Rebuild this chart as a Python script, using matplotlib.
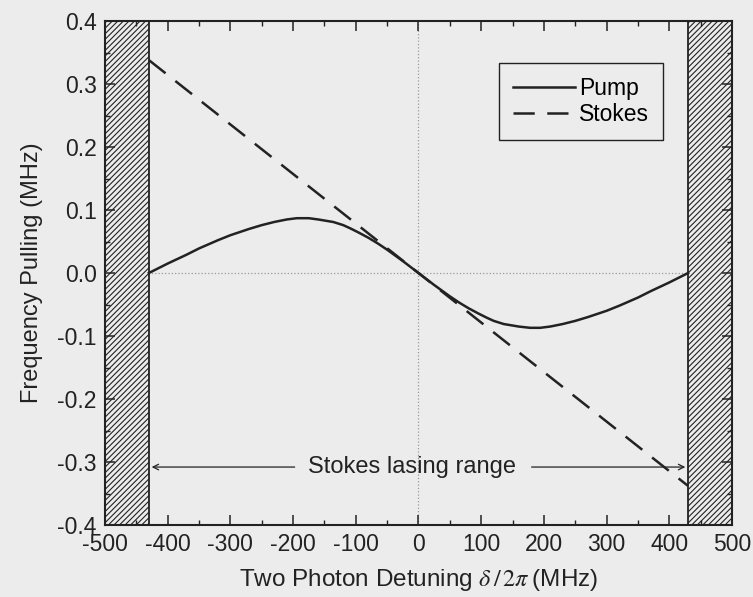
import matplotlib
matplotlib.use("Agg")
import matplotlib.pyplot as plt
from matplotlib.ticker import MultipleLocator

plt.rcParams["font.family"] = ["Liberation Sans", "DejaVu Sans"]
plt.rcParams["mathtext.fontset"] = "stix"
plt.rcParams["axes.unicode_minus"] = False
plt.rcParams["hatch.linewidth"] = 0.8

# --- data ---
pump_x = [-430, -400, -370, -350, -320, -300, -270, -250, -230, -210, -194,
          -175, -160, -136, -120, -109, -95, -80, -65, -50, -25, 0,
          25, 50, 65, 80, 95, 109, 120, 136, 160, 178, 194, 210, 230, 250,
          270, 300, 320, 350, 370, 400, 430]
pump_y = [0.0, 0.015, 0.029, 0.039, 0.052, 0.060, 0.070, 0.076, 0.081, 0.085, 0.087,
          0.087, 0.085, 0.081, 0.076, 0.071, 0.064, 0.056, 0.047, 0.037, 0.019, 0.0,
          -0.019, -0.037, -0.047, -0.056, -0.064, -0.071, -0.076, -0.081, -0.085, -0.087, -0.087,
          -0.085, -0.081, -0.076, -0.070, -0.060, -0.052, -0.039, -0.029, -0.015, 0.0]
stokes_x = [-430, 430]
stokes_y = [0.338, -0.338]
lasing_edge = 430          # hatched regions outside +/- this detuning
x_lim = (-500, 500)
y_lim = (-0.4, 0.4)
bg = "#ececec"
ink = "#222222"

fig = plt.figure(figsize=(7.53, 5.97), dpi=100, facecolor=bg)
ax = fig.add_axes([0.1394, 0.1206, 0.8327, 0.8442], facecolor=bg)

# hatched non-lasing regions
for lo, hi in [(x_lim[0], -lasing_edge), (lasing_edge, x_lim[1])]:
    ax.axvspan(lo, hi, facecolor=bg, edgecolor=ink, hatch="//////",
               linewidth=1.3, zorder=1)

ax.axhline(0, color="#999999", linestyle=":", linewidth=0.9, zorder=0)
ax.axvline(0, color="#999999", linestyle=":", linewidth=0.9, zorder=0)

ax.plot(pump_x, pump_y, color=ink, linewidth=1.8, label="Pump", zorder=3)
ax.plot(stokes_x, stokes_y, color=ink, linewidth=1.8, linestyle=(0, (8.5, 5)),
        label="Stokes", zorder=3)

# lasing range arrows
y_arr = -0.308
ax.text(-10, y_arr, "Stokes lasing range", ha="center", va="center", fontsize=17,
        color=ink)
ax.annotate("", xy=(-lasing_edge, y_arr), xytext=(-193, y_arr),
            arrowprops=dict(arrowstyle="->", color=ink, lw=0.9))
ax.annotate("", xy=(lasing_edge, y_arr), xytext=(176, y_arr),
            arrowprops=dict(arrowstyle="->", color=ink, lw=0.9))

ax.set_xlim(*x_lim)
ax.set_ylim(*y_lim)
ax.xaxis.set_major_locator(MultipleLocator(100))
ax.xaxis.set_minor_locator(MultipleLocator(50))
ax.yaxis.set_major_locator(MultipleLocator(0.1))
ax.yaxis.set_minor_locator(MultipleLocator(0.05))
ax.yaxis.set_major_formatter(lambda v, p: f"{v:.1f}")
ax.tick_params(which="both", direction="in", top=True, right=True,
               colors=ink, labelsize=16.5)
ax.tick_params(which="major", length=7, width=1.1, pad=6)
ax.tick_params(which="minor", length=3.5, width=1.0)
for sp in ax.spines.values():
    sp.set_linewidth(1.5)
    sp.set_color(ink)

ax.set_xlabel(r"Two Photon Detuning $\delta\,/\,2\pi\;$(MHz)", fontsize=17.5,
              color=ink, labelpad=8)
ax.set_ylabel("Frequency Pulling (MHz)", fontsize=17, color=ink, labelpad=10)

leg = ax.legend(loc="upper right", bbox_to_anchor=(0.89, 0.917), fontsize=16.5,
                frameon=True, fancybox=False, handlelength=2.7, handletextpad=0.2,
                borderpad=0.6, labelspacing=0.15, borderaxespad=0)
leg.get_frame().set_edgecolor(ink)
leg.get_frame().set_facecolor(bg)
leg.get_frame().set_linewidth(1.0)
leg.get_frame().set_alpha(1)

fig.savefig("out.png", dpi=100, facecolor=bg)
